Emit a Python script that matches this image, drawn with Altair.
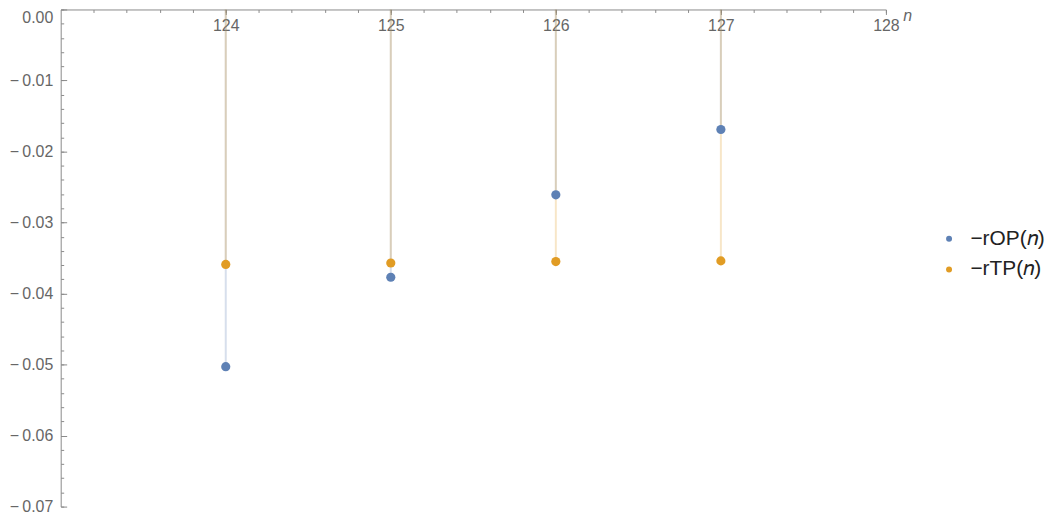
import altair as alt
import pandas as pd

# ---- data ----
n_values = [124, 125, 126, 127]
rop_values = [-0.0503, -0.0377, -0.0261, -0.0169]
rtp_values = [-0.0359, -0.0357, -0.0355, -0.0354]
series_names = ["\u2212rOP(\U0001D45B)", "\u2212rTP(\U0001D45B)"]
series_colors = ["#5E81B5", "#E19C24"]

x_major = [124, 125, 126, 127, 128]
x_ticks = [123.2, 123.4, 123.6, 123.8, 124.0, 124.2, 124.4, 124.6, 124.8, 125.0,
           125.2, 125.4, 125.6, 125.8, 126.0, 126.2, 126.4, 126.6, 126.8, 127.0,
           127.2, 127.4, 127.6, 127.8, 128.0]
y_major = [0.0, -0.01, -0.02, -0.03, -0.04, -0.05, -0.06, -0.07]
y_ticks = [round(-0.002 * i, 3) for i in range(36)]

W, H = 830, 500

rows = []
for n, a, b in zip(n_values, rop_values, rtp_values):
    rows.append({"n": n, "value": a, "series": series_names[0]})
    rows.append({"n": n, "value": b, "series": series_names[1]})
df = pd.DataFrame(rows)

x_scale = alt.Scale(domain=[123, 128], nice=False, zero=False)
y_scale = alt.Scale(domain=[-0.07, 0], nice=False)
color = alt.Color(
    "series:N",
    scale=alt.Scale(domain=series_names, range=series_colors),
    legend=alt.Legend(
        title=None, orient="none", legendX=883, legendY=220,
        symbolType="circle", symbolSize=36, symbolStrokeWidth=0, symbolOpacity=1,
        labelFontSize=21, labelFont="Liberation Sans", labelColor="#222222",
        labelOffset=11, rowPadding=9,
    ),
)

label_gray = "#666666"
axis_gray = "#8a8a8a"
FONT = "Liberation Sans"

# x axis: domain line at y = 0, minor ticks, labels below the line
x_axis_main = alt.Axis(
    orient="bottom", offset=-H, values=x_ticks, tickSize=3,
    tickColor=axis_gray, domainColor=axis_gray, tickWidth=1, domainWidth=1,
    labelExpr="abs(datum.value - round(datum.value)) < 1e-6 ? format(datum.value, 'd') : ''",
    labelFontSize=16, labelFont=FONT, labelColor=label_gray,
    labelPadding=5, labelOverlap=False, labelFlush=False, grid=False,
    title="n", titleFontStyle="italic", titleFontWeight="normal", titleFontSize=16,
    titleFont=FONT, titleColor=label_gray, titleAngle=0,
    titleX=W + 17, titleY=11, titleAlign="left", titleBaseline="alphabetic",
)
# x axis: longer major ticks
x_axis_major = alt.Axis(
    orient="top", offset=-5, values=x_major, tickSize=5, labels=False,
    domain=False, grid=False, tickColor=axis_gray, tickWidth=1, title=None,
)

# y axis: labels plus minor ticks
y_axis_main = alt.Axis(
    orient="left", offset=-3, values=y_ticks, tickSize=3, domain=False, grid=False,
    tickColor=axis_gray, tickWidth=1,
    labelExpr="abs(datum.value * 100 - round(datum.value * 100)) > 1e-6 ? '' : "
              "(abs(datum.value) < 1e-9 ? '0.00' : '\u2212\u2009' + format(abs(datum.value), '.2f'))",
    labelFontSize=16, labelFont=FONT, labelColor=label_gray,
    labelPadding=8, labelOverlap=False, labelFlush=False,
    labelBaseline={"condition": {"test": "abs(datum.value) < 1e-9", "value": "top"}, "value": "middle"},
    title=None,
)
# y axis: domain line plus major ticks
y_axis_major = alt.Axis(
    orient="right", offset=-W, values=y_major, labels=False, grid=False,
    tickSize=6, tickColor=axis_gray, domainColor=axis_gray, tickWidth=1, domainWidth=1,
    title=None,
)

base = alt.Chart(df).transform_calculate(zero="0")

stems = base.mark_rule(strokeWidth=2, opacity=0.25).encode(
    x=alt.X("n:Q", scale=x_scale, axis=x_axis_main),
    y=alt.Y("value:Q", scale=y_scale, axis=y_axis_main),
    y2=alt.Y2("zero:Q"),
    color=color,
)

points = base.mark_circle(size=85, opacity=1).encode(
    x=alt.X("n:Q", scale=x_scale, axis=x_axis_major),
    y=alt.Y("value:Q", scale=y_scale, axis=y_axis_major),
    color=color,
)

chart = alt.layer(stems, points).properties(
    width=W, height=H,
    autosize=alt.AutoSizeParams(type="none"),
    padding={"left": 53, "top": 0, "right": 160, "bottom": 12},
).configure_view(stroke=None)

chart.save("out.html", embed_options={"renderer": "svg", "actions": False})
